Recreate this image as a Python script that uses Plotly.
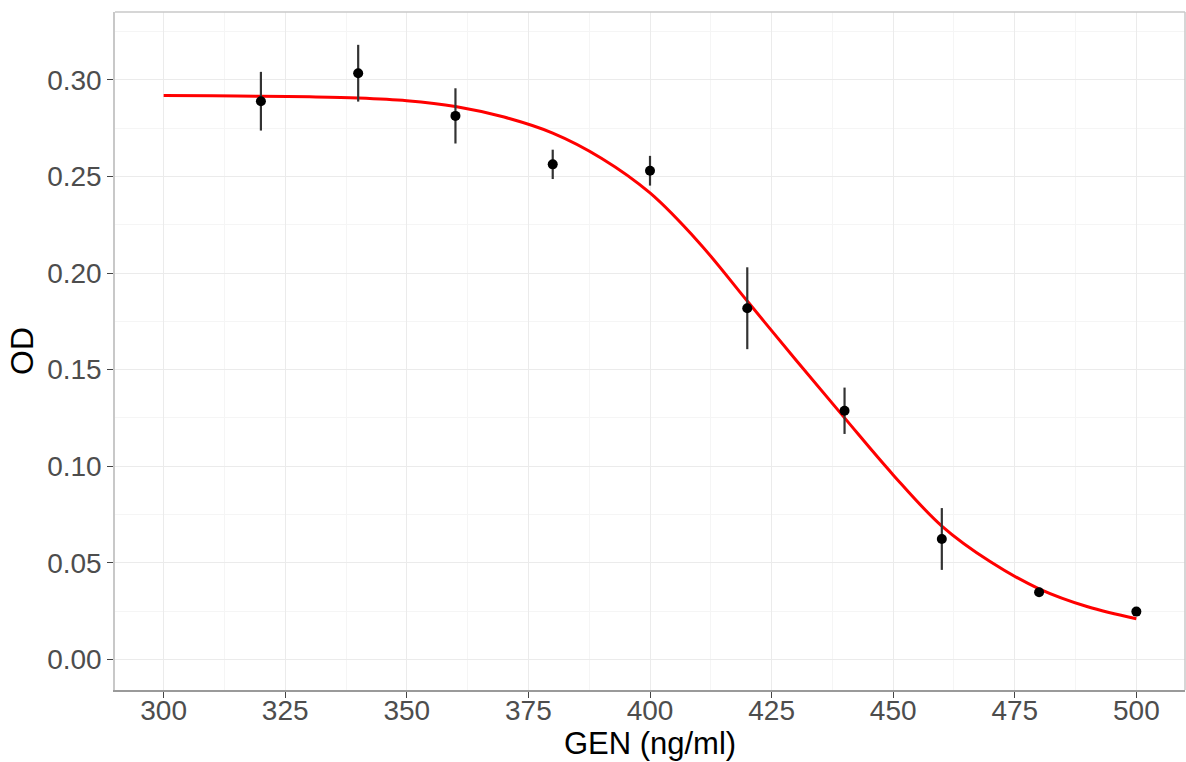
import plotly.graph_objects as go

# Observed data (mean ± error)
gen = [320, 340, 360, 380, 400, 420, 440, 460, 480, 500]
od = [0.2890, 0.3035, 0.2814, 0.2563, 0.2530, 0.1818, 0.1287, 0.0623, 0.0347, 0.0247]
od_err = [0.0152, 0.0147, 0.0143, 0.0076, 0.0077, 0.0212, 0.0120, 0.0160, 0.0020, 0.0010]

# Fitted curve
fit_x = [300, 310, 320, 330, 340, 350, 360, 370, 380, 390, 400, 410, 420, 430, 440, 450, 460, 470, 480, 490, 500]
fit_y = [0.2919, 0.2918, 0.2916, 0.2913, 0.2907, 0.2893, 0.2863, 0.2808, 0.2725, 0.2595, 0.2415, 0.2160, 0.1855, 0.1550, 0.1250, 0.0955, 0.0690, 0.0505, 0.0365, 0.0272, 0.0210]

x_ticks = [300, 325, 350, 375, 400, 425, 450, 475, 500]
y_ticks = [0.00, 0.05, 0.10, 0.15, 0.20, 0.25, 0.30]
y_ticklabels = ["0.00", "0.05", "0.10", "0.15", "0.20", "0.25", "0.30"]

fig = go.Figure()

fig.add_trace(go.Scatter(
    x=fit_x, y=fit_y, mode="lines",
    line=dict(color="#ff0000", width=3, shape="spline", smoothing=1.0),
    hoverinfo="skip", showlegend=False,
))

fig.add_trace(go.Scatter(
    x=gen, y=od, mode="markers",
    marker=dict(color="black", size=10),
    error_y=dict(type="data", array=od_err, visible=True, color="#333333", thickness=2.2, width=0),
    showlegend=False,
))

font_family = "Liberation Sans, Arial, sans-serif"

fig.update_layout(
    width=1186, height=762,
    margin=dict(l=115, r=1, t=12, b=72),
    paper_bgcolor="white", plot_bgcolor="white",
    font=dict(family=font_family, color="black"),
    xaxis=dict(
        range=[290, 510],
        tickmode="array", tickvals=x_ticks, ticktext=[str(v) for v in x_ticks],
        ticks="outside", ticklen=6, tickwidth=1.2, tickcolor="#444444",
        ticklabelstandoff=-11,
        tickfont=dict(size=28, color="#4d4d4d", family=font_family),
        showgrid=True, gridcolor="#ebebeb", gridwidth=1.2,
        minor=dict(showgrid=True, gridcolor="#f5f5f5", gridwidth=0.8, dtick=12.5, tick0=287.5, ticks=""),
        showline=True, linecolor="#9a9a9a", linewidth=1.5, mirror=False,
        zeroline=False,
        title=dict(text="GEN (ng/ml)", font=dict(size=31, color="black", family=font_family), standoff=4),
    ),
    yaxis=dict(
        range=[-0.0159, 0.3352],
        tickmode="array", tickvals=y_ticks, ticktext=y_ticklabels,
        ticks="outside", ticklen=6, tickwidth=1.2, tickcolor="#444444",
        tickfont=dict(size=28, color="#4d4d4d", family=font_family),
        showgrid=True, gridcolor="#ebebeb", gridwidth=1.2,
        minor=dict(showgrid=True, gridcolor="#f5f5f5", gridwidth=0.8, dtick=0.025, tick0=0.025, ticks=""),
        showline=True, linecolor="#c8c8c8", linewidth=1.5, mirror=False,
        zeroline=False,
        title=dict(text="OD", font=dict(size=32, color="black", family=font_family), standoff=4),
    ),
    shapes=[
        dict(type="line", xref="paper", yref="paper", x0=0, x1=1, y0=1, y1=1,
             line=dict(color="#c8c8c8", width=1.5)),
        dict(type="line", xref="paper", yref="paper", x0=1, x1=1, y0=0, y1=1,
             line=dict(color="#c8c8c8", width=1.5)),
    ],
)

fig.write_html("out.html")
